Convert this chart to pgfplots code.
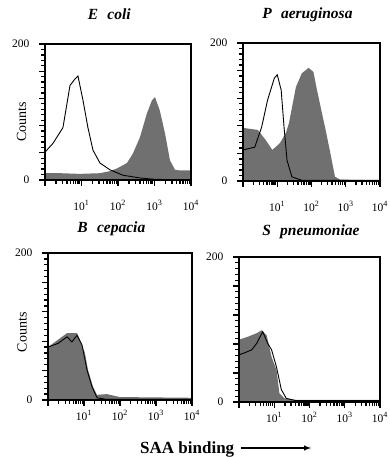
\documentclass[border=0pt]{standalone}
\usepackage{fontspec}
\setmainfont{Liberation Serif}
\usepackage{pgfplots}
\pgfplotsset{compat=1.18}
\definecolor{fillgray}{RGB}{112,112,112}
\pgfplotsset{every axis/.append style={
    scale only axis,
    xmin=1, xmax=10000, ymin=0, ymax=200,
    axis line style={line width=1.1pt},
    axis on top,
    xtick pos=bottom, ytick pos=left,
    tick align=outside,
    major tick length=6pt, minor tick length=4pt,
    every tick/.append style={line width=1.3pt, black},
    xtick={1,10,100,1000,10000},
    xticklabels={,10\textsuperscript{1},10\textsuperscript{2},10\textsuperscript{3},10\textsuperscript{4}},
    ytick={0,200},
    yticklabels={0,200},
    extra y ticks={40,80,120,160},
    extra y tick labels={},
    minor ytick={8,16,24,32,48,56,64,72,88,96,104,112,128,136,144,152,168,176,184,192},
    tick label style={font=\fontsize{11.5}{13}\selectfont},
    yticklabel style={xshift=-6pt},
    title style={font=\fontsize{15.5}{17}\selectfont\bfseries\itshape},
    ylabel style={font=\fontsize{14}{16}\selectfont},
}}
\begin{document}
\begin{tikzpicture}
\useasboundingbox (0pt,0pt) rectangle (389pt,457pt);
% E coli
\begin{semilogxaxis}[anchor=south west, at={(45pt,277pt)}, width=146pt, height=136pt,
  xticklabel style={yshift=-11pt},
  title={E\hspace{0.6em}coli}, title style={at={(0.44,1)}, anchor=base, yshift=18pt},
  ylabel={Counts}, ylabel style={at={(-0.16,0.43)}, anchor=center}]
\addplot[fill=fillgray, draw=none] coordinates {(1,10) (2.6,10) (9,9) (32,10) (60,13) (94,17) (176,25) (257,39) (400,63) (620,98) (850,117) (1030,122) (1400,102) (1950,68) (2650,29) (3650,15) (5000,14) (10000,14)} \closedcycle;
\addplot[black, line width=0.9pt, sharp plot] coordinates {(1,41) (1.66,54) (3.1,77) (4.84,139) (6.5,148) (8,153) (11,117) (15,77) (20.6,44) (32,25) (60,15) (137,7) (400,3) (1000,1) (10000,0)};
\end{semilogxaxis}
% P aeruginosa
\begin{semilogxaxis}[anchor=south west, at={(243pt,276pt)}, width=137pt, height=138pt,
  xticklabel style={yshift=-11pt},
  title={P\hspace{0.6em}aeruginosa}, title style={at={(0.47,1)}, anchor=base, yshift=18pt}]
\addplot[fill=fillgray, draw=none] coordinates {(1,77) (2.7,74) (4.5,60) (7.2,45) (12,55) (18,70) (22,84) (35,136) (52,156) (82,164) (114,158) (139,136) (193,103) (269,70) (373,35) (485,6) (700,2) (10000,1)} \closedcycle;
\addplot[black, line width=0.9pt, sharp plot] coordinates {(1,45) (2.2,49) (3.5,78) (5.2,117) (8.2,149) (10,154) (13,132) (15.8,78) (19.3,30) (26.8,6) (52,1) (10000,1)};
\end{semilogxaxis}
% B cepacia
\begin{semilogxaxis}[anchor=south west, at={(48pt,57pt)}, width=144pt, height=147pt,
  xticklabel style={yshift=-1pt},
  title={B\hspace{0.6em}cepacia}, title style={at={(0.44,1)}, anchor=base, yshift=14pt},
  ylabel={Counts}, ylabel style={at={(-0.18,0.46)}, anchor=center}]
\addplot[fill=fillgray, draw=none] coordinates {(1,72) (2.45,86) (3.4,91) (6.4,91) (7.7,82) (10.6,64) (12.9,41) (17.8,18) (23,7) (43,8) (100,4) (10000,3)} \closedcycle;
\addplot[black, line width=0.9pt, sharp plot] coordinates {(1,72) (1.9,77) (3.4,86) (4.6,79) (6.4,88) (8.8,75) (12.1,41) (16.7,18) (23,3) (40,1) (10000,1)};
\end{semilogxaxis}
% S pneumoniae
\begin{semilogxaxis}[anchor=south west, at={(239pt,55pt)}, width=141pt, height=145pt,
  xticklabel style={yshift=-1pt},
  title={S\hspace{0.6em}pneumoniae}, title style={at={(0.51,1)}, anchor=base, yshift=15pt}]
\addplot[fill=fillgray, draw=none] coordinates {(1,86) (1.79,90) (3.2,95) (4.4,99) (6.1,92) (8.4,62) (11.6,44) (14,12) (19.4,5) (40,3) (10000,3)} \closedcycle;
\addplot[black, line width=0.9pt, sharp plot] coordinates {(1,65) (1.47,68) (2.3,72) (3.2,81) (4.7,97) (6.5,81) (8.4,72) (11.6,48) (15.9,17) (22,5) (40,2) (10000,2)};
\end{semilogxaxis}
\node[font=\fontsize{17}{19}\selectfont\bfseries, anchor=base west, inner sep=0pt] at (140pt,4pt) {SAA binding};
\draw[-latex, line width=1.4pt] (241pt,9pt) -- (311pt,9pt);
\end{tikzpicture}
\end{document}
